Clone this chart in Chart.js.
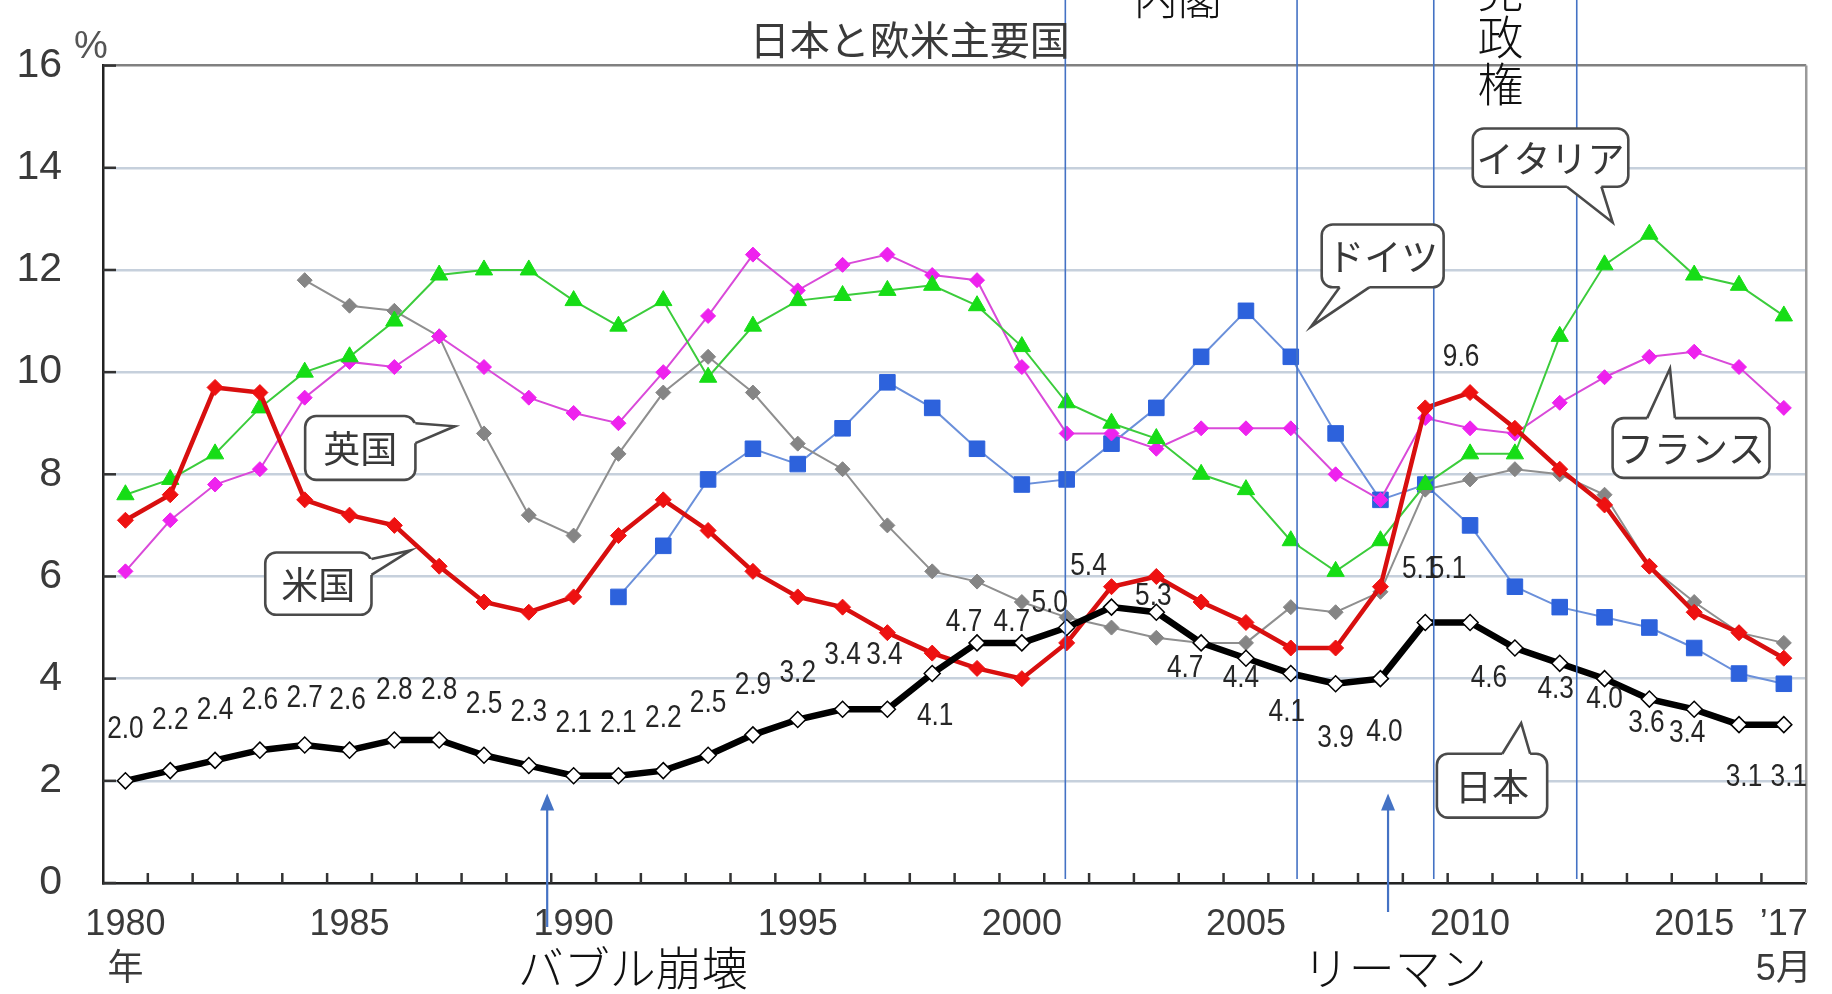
<!DOCTYPE html>
<html>
<head>
<meta charset="utf-8">
<script src="https://cdn.jsdelivr.net/npm/chart.js@4.4.1/dist/chart.umd.min.js"></script>
<style>
html,body{margin:0;padding:0;background:#fff;}
#wrap{width:1832px;height:994px;position:relative;}
</style>
</head>
<body>
<div id="wrap"><canvas id="c"></canvas></div>
<script>
// ---------- data ----------
const categories = [1980,1981,1982,1983,1984,1985,1986,1987,1988,1989,
                    1990,1991,1992,1993,1994,1995,1996,1997,1998,1999,
                    2000,2001,2002,2003,2004,2005,2006,2007,2008,2009,
                    2010,2011,2012,2013,2014,2015,2016,2017];
const tickLabels = [['1980','年'],'','','','','1985','','','','',
                    '1990','','','','','1995','','','','',
                    '2000','','','','','2005','','','','',
                    '2010','','','','','2015','',['’17','5月']];
const japan   = [2.0,2.2,2.4,2.6,2.7,2.6,2.8,2.8,2.5,2.3,
                 2.1,2.1,2.2,2.5,2.9,3.2,3.4,3.4,4.1,4.7,
                 4.7,5.0,5.4,5.3,4.7,4.4,4.1,3.9,4.0,5.1,
                 5.1,4.6,4.3,4.0,3.6,3.4,3.1,3.1];
const usa     = [7.1,7.6,9.7,9.6,7.5,7.2,7.0,6.2,5.5,5.3,
                 5.6,6.8,7.5,6.9,6.1,5.6,5.4,4.9,4.5,4.2,
                 4.0,4.7,5.8,6.0,5.5,5.1,4.6,4.6,5.8,9.3,
                 9.6,8.9,8.1,7.4,6.2,5.3,4.9,4.4];
const italy   = [7.6,7.9,8.4,9.3,10.0,10.3,11.0,11.9,12.0,12.0,
                 11.4,10.9,11.4,9.9,10.9,11.4,11.5,11.6,11.7,11.3,
                 10.5,9.4,9.0,8.7,8.0,7.7,6.7,6.1,6.7,7.8,
                 8.4,8.4,10.7,12.1,12.7,11.9,11.7,11.1];
const france  = [6.1,7.1,7.8,8.1,9.5,10.2,10.1,10.7,10.1,9.5,
                 9.2,9.0,10.0,11.1,12.3,11.6,12.1,12.3,11.9,11.8,
                 10.1,8.8,8.8,8.5,8.9,8.9,8.9,8.0,7.5,9.1,
                 8.9,8.8,9.4,9.9,10.3,10.4,10.1,9.3];
const uk      = [null,null,null,null,11.8,11.3,11.2,10.7,8.8,7.2,
                 6.8,8.4,9.6,10.3,9.6,8.6,8.1,7.0,6.1,5.9,
                 5.5,5.2,5.0,4.8,4.7,4.7,5.4,5.3,5.7,7.7,
                 7.9,8.1,8.0,7.6,6.2,5.5,4.9,4.7];
const germany = [null,null,null,null,null,null,null,null,null,null,
                 null,5.6,6.6,7.9,8.5,8.2,8.9,9.8,9.3,8.5,
                 7.8,7.9,8.6,9.3,10.3,11.2,10.3,8.8,7.5,7.8,
                 7.0,5.8,5.4,5.2,5.0,4.6,4.1,3.9];
const yTicks = [0,2,4,6,8,10,12,14,16];

// ---------- label placement (style only, pixels) ----------
const jpLabelDx = [0,0,0,0,0,-2,0,0,0,0, 0,0,0,0,0,0,0,-3,3,-13,
                   -10,-17,-23,-3,-16,-5,-4,0,4,-5, -22,-26,-4,0,-3,-7,5,5];
const jpLabelDy = [-52,-50,-50,-50,-47,-50,-50,-50,-51,-53, -53,-53,-52,-52,-50,-46,-54,-54,43,-21,
                   -21,-24,-41,-16,25,20,39,54,54,-53, -53,30,26,21,24,24,53,53];
const usLabelIndex = 30, usLabelDx = -9, usLabelDy = -35;

// annotations in data space (x = category index, y = value)
const periodLines = [20.97, 26.14, 29.19, 32.38];
const callouts = [
  {text:'英国',   box:[4.01,6.47,9.14,7.89],  edge:'right',  base:[9.00,8.61],  tip:[7.35,8.94]},
  {text:'米国',   box:[3.12,5.49,6.47,5.25],  edge:'right',  base:[6.34,6.03],  tip:[6.36,6.51]},
  {text:'ドイツ', box:[26.69,29.41,12.89,11.66], edge:'bottom', base:[27.09,27.75], tip:[26.45,10.89]},
  {text:'イタリア', box:[30.06,33.53,14.77,13.63], edge:'bottom', base:[32.16,32.93], tip:[33.18,12.93]},
  {text:'フランス', box:[33.18,36.68,9.10,7.93], edge:'top', base:[33.95,34.57], tip:[34.46,10.07]},
  {text:'日本',   box:[29.26,31.72,2.53,1.28], edge:'top', base:[30.72,31.34], tip:[31.14,3.13]}
];
const arrows = [
  {x:9.41,  text:'バブル崩壊', textX:11.32},
  {x:28.17, text:'リーマン',   textX:28.32}
];

const CJK = '"Noto Sans CJK JP", "Noto Sans", sans-serif';
const LAT = '"Liberation Sans", Arial, "Noto Sans CJK JP", sans-serif';

const overlay = {
  id: 'overlay',
  beforeDatasetsDraw(chart) {
    const ctx = chart.ctx, a = chart.chartArea, xs = chart.scales.x, ys = chart.scales.y;
    ctx.save();
    // right border
    ctx.strokeStyle = '#9a9a9a'; ctx.lineWidth = 2.5;
    ctx.beginPath(); ctx.moveTo(a.right, a.top); ctx.lineTo(a.right, a.bottom); ctx.stroke();
    // inward ticks
    ctx.strokeStyle = '#333'; ctx.lineWidth = 2.5;
    yTicks.forEach(v => {
      const y = ys.getPixelForValue(v);
      ctx.beginPath(); ctx.moveTo(a.left, y); ctx.lineTo(a.left + 13, y); ctx.stroke();
    });
    for (let i = 0; i < categories.length - 1; i++) {
      const x = (xs.getPixelForValue(i) + xs.getPixelForValue(i + 1)) / 2;
      ctx.beginPath(); ctx.moveTo(x, a.bottom); ctx.lineTo(x, a.bottom - 10); ctx.stroke();
    }
    ctx.restore();
  },
  afterDatasetsDraw(chart) {
    const ctx = chart.ctx, a = chart.chartArea, xs = chart.scales.x, ys = chart.scales.y;
    const step = xs.getPixelForValue(1) - xs.getPixelForValue(0);
    const X = fi => xs.getPixelForValue(0) + fi * step;
    const Y = v => ys.getPixelForValue(v);
    ctx.save();

    // period lines
    ctx.strokeStyle = '#4472C4'; ctx.lineWidth = 1.6;
    periodLines.forEach(fi => {
      const x = X(fi);
      ctx.beginPath(); ctx.moveTo(x, 0); ctx.lineTo(x, a.bottom - 4); ctx.stroke();
    });

    // callouts
    callouts.forEach(b => {
      const x0 = X(b.box[0]), x1 = X(b.box[1]), y0 = Y(b.box[2]), y1 = Y(b.box[3]);
      ctx.fillStyle = '#fff'; ctx.strokeStyle = '#4a4a4a'; ctx.lineWidth = 2.6;
      ctx.beginPath(); ctx.roundRect(x0, y0, x1 - x0, y1 - y0, 11); ctx.fill(); ctx.stroke();
      let p1, p2, in1, in2;
      if (b.edge === 'right') {
        p1 = [x1, Y(b.base[0])]; p2 = [x1, Y(b.base[1])];
        in1 = [x1 - 5, p1[1]]; in2 = [x1 - 5, p2[1]];
      } else if (b.edge === 'top') {
        p1 = [X(b.base[0]), y0]; p2 = [X(b.base[1]), y0];
        in1 = [p1[0], y0 + 5]; in2 = [p2[0], y0 + 5];
      } else {
        p1 = [X(b.base[0]), y1]; p2 = [X(b.base[1]), y1];
        in1 = [p1[0], y1 - 5]; in2 = [p2[0], y1 - 5];
      }
      const tip = [X(b.tip[0]), Y(b.tip[1])];
      ctx.beginPath(); ctx.moveTo(in1[0], in1[1]); ctx.lineTo(p1[0], p1[1]); ctx.lineTo(tip[0], tip[1]);
      ctx.lineTo(p2[0], p2[1]); ctx.lineTo(in2[0], in2[1]); ctx.closePath(); ctx.fill();
      ctx.beginPath(); ctx.moveTo(p1[0], p1[1]); ctx.lineTo(tip[0], tip[1]); ctx.lineTo(p2[0], p2[1]); ctx.stroke();
      ctx.fillStyle = '#383838'; ctx.font = '37px ' + CJK;
      ctx.textAlign = 'center'; ctx.textBaseline = 'middle';
      ctx.fillText(b.text, (x0 + x1) / 2, (y0 + y1) / 2 + 1);
    });

    // data labels
    const drawLabel = (txt, x, y) => {
      ctx.save(); ctx.translate(x, y); ctx.scale(0.82, 1);
      ctx.fillStyle = '#262626'; ctx.font = '32px ' + LAT;
      ctx.textAlign = 'center'; ctx.textBaseline = 'middle';
      ctx.fillText(txt, 0, 0); ctx.restore();
    };
    const jm = chart.getDatasetMeta(0);
    japan.forEach((v, i) => {
      const p = jm.data[i];
      drawLabel(v.toFixed(1), p.x + jpLabelDx[i], p.y + jpLabelDy[i]);
    });
    const um = chart.getDatasetMeta(1);
    const up = um.data[usLabelIndex];
    drawLabel(usa[usLabelIndex].toFixed(1), up.x + usLabelDx, up.y + usLabelDy);

    // title and unit
    ctx.fillStyle = '#3a3a3a'; ctx.font = '40px ' + CJK;
    ctx.textAlign = 'center'; ctx.textBaseline = 'middle';
    ctx.fillText('日本と欧米主要国', X(17.5), a.top - 26);
    ctx.fillStyle = '#555'; ctx.font = '38px ' + LAT;
    ctx.fillText('%', a.left - 12, a.top - 18);

    // period texts (cut at top)
    ctx.fillStyle = '#111'; ctx.font = '300 44px ' + CJK;
    ctx.textBaseline = 'ideographic';
    ctx.fillText('内閣', X(23.48), 20);
    ctx.font = '300 46px ' + CJK; ctx.textBaseline = 'middle';
    ['党', '政', '権'].forEach((ch, k) => ctx.fillText(ch, X(30.68), -10 + 47 * k));

    // arrows + texts
    arrows.forEach(ar => {
      const x = X(ar.x), yTop = Y(1.75), yBot = ar.x < 20 ? a.bottom + 44 : a.bottom + 29;
      ctx.strokeStyle = '#4472C4'; ctx.fillStyle = '#4472C4'; ctx.lineWidth = 2.2;
      ctx.beginPath(); ctx.moveTo(x, yBot); ctx.lineTo(x, yTop + 14); ctx.stroke();
      ctx.beginPath(); ctx.moveTo(x, yTop); ctx.lineTo(x - 7, yTop + 17); ctx.lineTo(x + 7, yTop + 17); ctx.closePath(); ctx.fill();
      ctx.fillStyle = '#111'; ctx.font = '300 46px ' + CJK;
      ctx.textAlign = 'center'; ctx.textBaseline = 'middle';
      ctx.fillText(ar.text, X(ar.textX), a.bottom + 85);
    });
    ctx.restore();
  }
};

const ds = (label, data, color, lineColor, width, style, radius) => ({
  label, data, borderColor: lineColor, borderWidth: width, backgroundColor: color,
  pointStyle: style, pointRadius: radius, pointHoverRadius: radius,
  pointBackgroundColor: color, pointBorderColor: color, pointBorderWidth: 1,
  tension: 0, spanGaps: false, fill: false
});

const datasets = [
  Object.assign(ds('日本', japan, '#ffffff', '#000000', 6.5, 'rectRot', 8), {pointBorderColor: '#000', pointBorderWidth: 1.5}),
  ds('米国', usa, '#ee1111', '#d80f0f', 4.5, 'rectRot', 8),
  ds('イタリア', italy, '#16dd16', '#3ccc3c', 2, 'triangle', 10),
  ds('フランス', france, '#ee22ee', '#d94ad9', 2, 'rectRot', 7.5),
  ds('英国', uk, '#858585', '#8f8f8f', 2, 'rectRot', 7.5),
  ds('ドイツ', germany, '#2d62dc', '#6b90da', 2, 'rect', 11)
];

new Chart(document.getElementById('c'), {
  type: 'line',
  data: { labels: categories, datasets },
  options: {
    responsive: true, maintainAspectRatio: false, devicePixelRatio: 1, animation: false,
    layout: { padding: { top: 60, right: 11, left: 0, bottom: 0 } },
    plugins: { legend: { display: false }, title: { display: false }, tooltip: { enabled: false } },
    scales: {
      x: {
        type: 'category', offset: true,
        grid: { display: false, drawTicks: false },
        border: { display: true, color: '#222', width: 2.5 },
        ticks: {
          autoSkip: false, maxRotation: 0, minRotation: 0, padding: 20,
          color: '#3a3a3a', font: { family: LAT, size: 36, lineHeight: 1.25 },
          callback: (v, i) => tickLabels[i]
        },
        afterFit: s => { s.height = 111; }
      },
      y: {
        min: 0, max: 16,
        afterBuildTicks: s => { s.ticks = yTicks.map(v => ({ value: v })); },
        grid: {
          drawTicks: false,
          color: c => (c.tick && c.tick.value === 16) ? '#808080' : '#c6d0dc',
          lineWidth: 2.5
        },
        border: { display: true, color: '#222', width: 2.5 },
        ticks: { padding: 41, color: '#3a3a3a', font: { family: LAT, size: 41 } },
        afterFit: s => { s.width = 103; }
      }
    }
  },
  plugins: [overlay]
});
</script>
</body>
</html>
